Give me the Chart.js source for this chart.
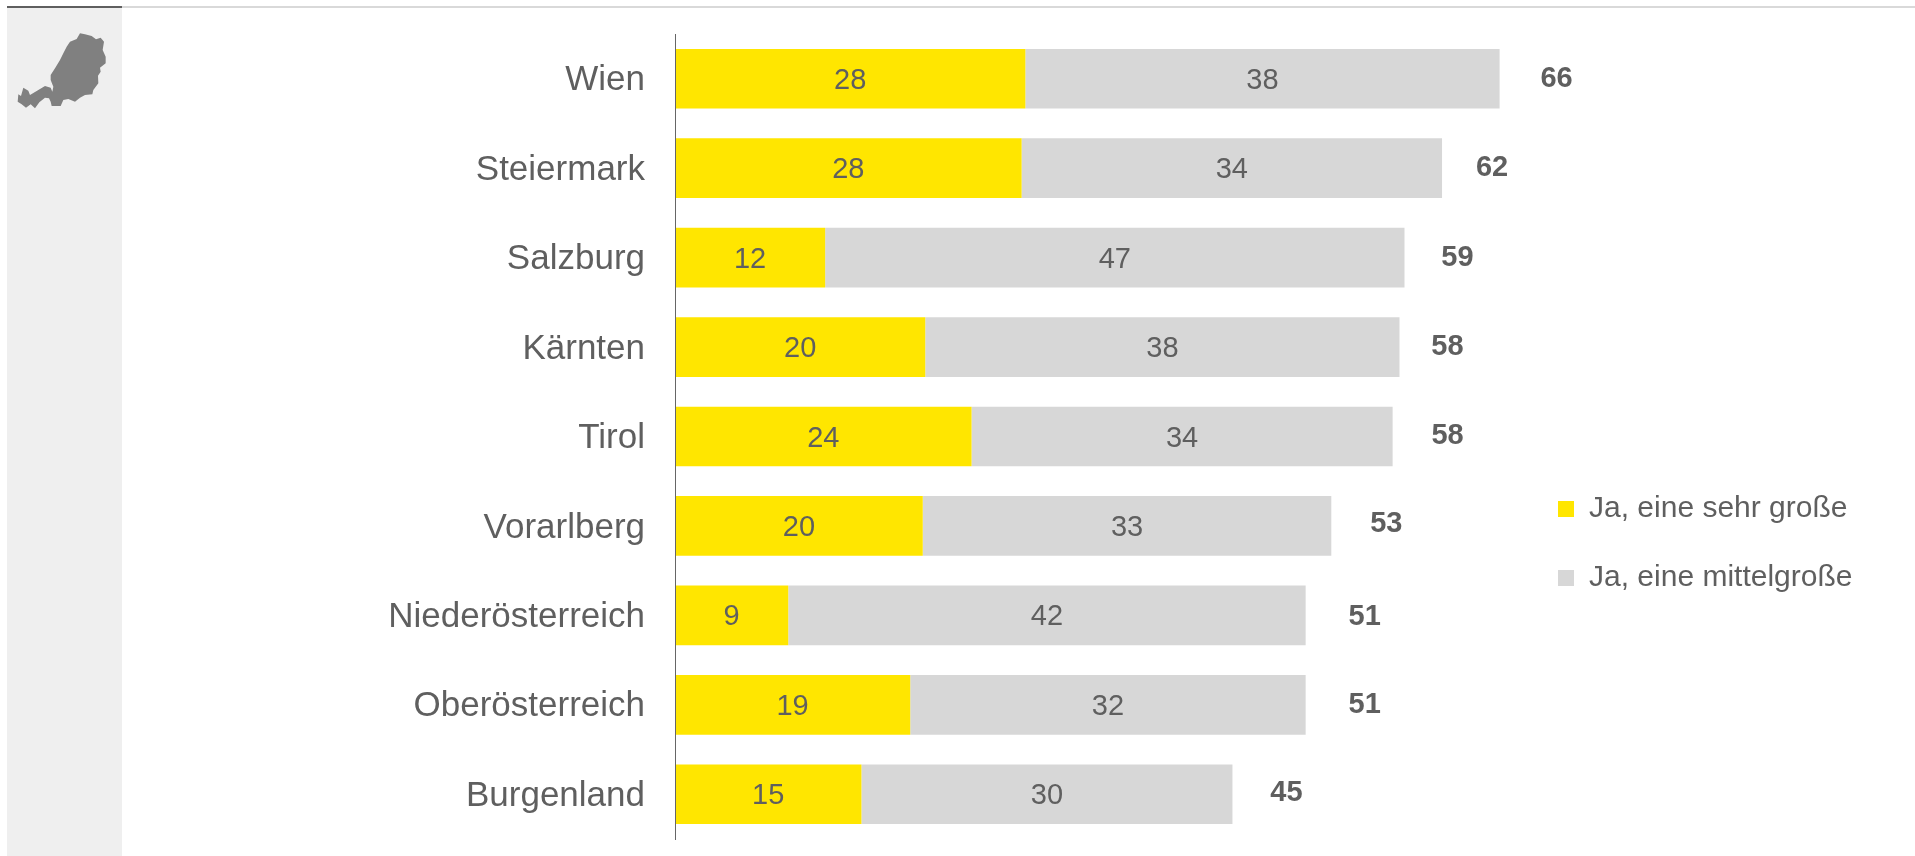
<!DOCTYPE html>
<html lang="de">
<head>
<meta charset="utf-8">
<title>Bundesländer</title>
<script src="https://cdn.jsdelivr.net/npm/chart.js@4"></script>
<style>
body { margin: 0; background: #fff; overflow: hidden; }
#page { position: relative; width: 1915px; height: 856px; }
#side { position: absolute; left: 7px; top: 8px; width: 115px; height: 848px; background: #efefef; }
#ruleDark { position: absolute; left: 7px; top: 6px; width: 115px; height: 2px; background: #5f5f5f; }
#ruleLight { position: absolute; left: 122px; top: 6px; right: 0; height: 2px; background: #d9d9d9; }
#map { position: absolute; left: 10px; top: 25px; }
canvas { position: absolute; left: 0; top: 0; }
</style>
</head>
<body>
<div id="page">
  <div id="side"></div>
  <div id="ruleDark"></div>
  <div id="ruleLight"></div>
  <svg id="map" width="100" height="90" viewBox="0 0 300 270">
    <path fill="#808080" d="M210 25 225 28 245 33 258 43 272 38 282 50 278 75 287 95 287 115 270 128 272 140 264 152 265 175 250 195 247 208 225 210 210 218 195 230 175 222 160 225 152 243 125 243 122 230 117 220 105 218 88 232 75 250 62 238 48 248 35 238 23 230 25 208 33 213 40 188 55 197 60 210 85 195 105 183 122 188 127 200 130 185 122 165 122 150 135 130 150 105 160 85 170 65 180 50 200 42Z"/>
  </svg>
  <canvas id="chart" width="1915" height="856"></canvas>
</div>
<script>
const categories = ['Wien', 'Steiermark', 'Salzburg', 'Kärnten', 'Tirol', 'Vorarlberg', 'Niederösterreich', 'Oberösterreich', 'Burgenland'];

// bar lengths, the printed numbers are rounded
const sehrGross = [28.0, 27.7, 12.0, 20.0, 23.7, 19.8, 9.05, 18.8, 14.9];
const mittelGross = [37.9, 33.6, 46.3, 37.9, 33.65, 32.65, 41.35, 31.6, 29.65];

const sehrGrossLabels = [28, 28, 12, 20, 24, 20, 9, 19, 15];
const mittelGrossLabels = [38, 34, 47, 38, 34, 33, 42, 32, 30];
const totalLabels = [66, 62, 59, 58, 58, 53, 51, 51, 45];

const textColor = '#5f5f5f';
const fontName = '"Liberation Sans", Arial, sans-serif';

// where the totals sit relative to the bar end, in px
const totalGap = [57, 50, 53, 48, 55, 55, 59, 59, 54];
const totalNudge = [0, 0, 0, 0, -1, -2, 2, 0, -1];

const barLabels = {
    id: 'barLabels',
    afterDatasetsDraw(chart) {
        const c = chart.ctx;
        c.save();
        c.textAlign = 'center';
        c.textBaseline = 'middle';
        c.fillStyle = textColor;

        c.font = '29px ' + fontName;
        [sehrGrossLabels, mittelGrossLabels].forEach(function (labels, d) {
            chart.getDatasetMeta(d).data.forEach(function (bar, i) {
                c.fillText(labels[i], (bar.x + bar.base) / 2, bar.y + 2);
            });
        });

        c.font = 'bold 29px ' + fontName;
        chart.getDatasetMeta(1).data.forEach(function (bar, i) {
            c.fillText(totalLabels[i], bar.x + totalGap[i], bar.y + totalNudge[i]);
        });
        c.restore();
    }
};

// legend stays in the right column but sits lower than chart.js would put it
const moveLegend = {
    id: 'moveLegend',
    beforeDraw(chart) {
        chart.legend.left = 1519;
        chart.legend.top = 455;
    }
};

new Chart(document.getElementById('chart'), {
    type: 'bar',
    data: {
        labels: categories,
        datasets: [
            { label: 'Ja, eine sehr große', data: sehrGross, backgroundColor: '#ffe600' },
            { label: 'Ja, eine mittelgroße', data: mittelGross, backgroundColor: '#d7d7d7' }
        ]
    },
    options: {
        indexAxis: 'y',
        responsive: false,
        animation: false,
        barPercentage: 1,
        categoryPercentage: 0.667,
        layout: { padding: { top: 34, bottom: 17 } },
        scales: {
            x: { display: false, stacked: true, min: 0, max: 71.65 },
            y: {
                stacked: true,
                grid: { display: false },
                border: { color: '#666666', width: 1, z: 1 },
                ticks: {
                    color: textColor,
                    padding: 22,
                    labelOffset: 2,
                    font: { family: fontName, size: 35 }
                },
                afterFit(scale) {
                    scale.width = 675;
                    scale.paddingTop = 0;
                    scale.paddingBottom = 0;
                }
            }
        },
        plugins: {
            tooltip: { enabled: false },
            legend: {
                position: 'right',
                align: 'start',
                labels: {
                    boxWidth: 16,
                    boxHeight: 16,
                    padding: 39,
                    color: textColor,
                    font: { family: fontName, size: 30 }
                }
            }
        }
    },
    plugins: [barLabels, moveLegend]
});
</script>
</body>
</html>
